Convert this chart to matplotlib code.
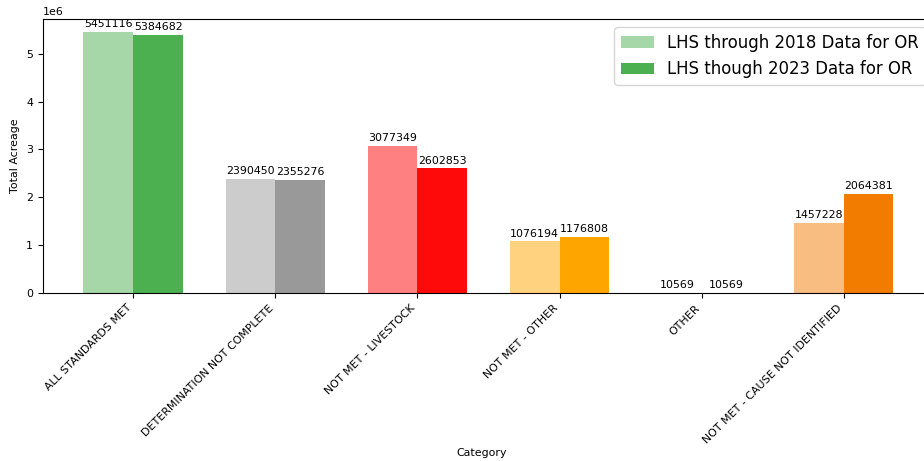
import numpy as np
import matplotlib
matplotlib.use("Agg")
import matplotlib.pyplot as plt

categories = ["ALL STANDARDS MET", "DETERMINATION NOT COMPLETE", "NOT MET - LIVESTOCK",
              "NOT MET - OTHER", "OTHER", "NOT MET - CAUSE NOT IDENTIFIED"]
acres_2018 = [5451116, 2390450, 3077349, 1076194, 10569, 1457228]
acres_2023 = [5384682, 2355276, 2602853, 1176808, 10569, 2064381]
colors_2018 = ["#a6d7a8", "#cccccc", "#ff8080", "#ffd280", "#cccccc", "#f8bd80"]
colors_2023 = ["#4caf50", "#999999", "#ff0a0a", "#ffa500", "#999999", "#f27c00"]

x = np.arange(len(categories))
width = 0.35
fs = 7.9

fig = plt.figure(figsize=(9.24, 4.61), dpi=100)
# axes run a little past the right edge of the picture, as in the original crop
ax = fig.add_axes([0.0465, 0.3644, 0.9643, 0.5944])

b1 = ax.bar(x - width/2, acres_2018, width, color=colors_2018, label="LHS through 2018 Data for OR")
b2 = ax.bar(x + width/2, acres_2023, width, color=colors_2023, label="LHS though 2023 Data for OR")

for bars in (b1, b2):
	for rect in bars:
		h = rect.get_height()
		ax.annotate(str(int(h)), xy=(rect.get_x() + rect.get_width()/2, h),
					xytext=(0, 2), textcoords="offset points",
					ha="center", va="bottom", fontsize=fs)

ax.set_xticks(x)
ax.set_xticklabels(categories, rotation=45, ha="right", fontsize=fs)
ax.tick_params(axis="y", labelsize=fs)
ax.yaxis.get_offset_text().set_fontsize(fs)
ax.set_ylabel("Total Acreage", fontsize=fs)
ax.yaxis.set_label_coords(-0.026, 0.5)
ax.set_xlabel("Category", fontsize=fs)
ax.xaxis.set_label_coords(0.492, -0.565)

ax.legend(loc="upper right", fontsize=11.9)

fig.savefig("out.png", dpi=100)
